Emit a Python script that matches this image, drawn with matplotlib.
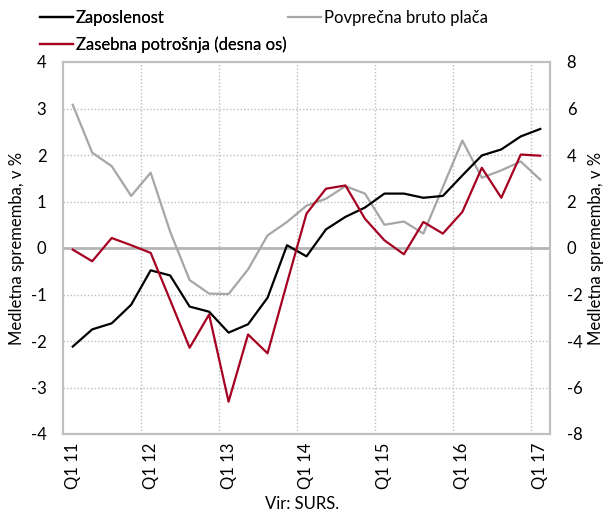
import matplotlib
matplotlib.use("Agg")
import matplotlib.pyplot as plt
import numpy as np

plt.rcParams['font.family'] = ['Lato', 'DejaVu Sans']
plt.rcParams['axes.unicode_minus'] = False

quarters = [f"Q{q} {y}" for y in range(11, 18) for q in range(1, 5)][:25]
tick_labels = ["Q1 11", "Q1 12", "Q1 13", "Q1 14", "Q1 15", "Q1 16", "Q1 17"]

zaposlenost = [-2.12, -1.75, -1.62, -1.22, -0.48, -0.59, -1.26, -1.37, -1.82, -1.64,
               -1.07, 0.06, -0.18, 0.40, 0.67, 0.87, 1.17, 1.17, 1.08, 1.12,
               1.56, 1.99, 2.12, 2.40, 2.56]
placa = [3.08, 2.05, 1.76, 1.12, 1.62, 0.35, -0.69, -0.98, -0.99, -0.46,
         0.27, 0.56, 0.91, 1.06, 1.33, 1.17, 0.50, 0.57, 0.31, 1.31,
         2.31, 1.51, 1.67, 1.86, 1.47]
potrosnja = [-0.07, -0.57, 0.43, 0.12, -0.21, -2.24, -4.29, -2.86, -6.61, -3.72,
             -4.53, -1.5, 1.48, 2.55, 2.69, 1.26, 0.33, -0.27, 1.12, 0.62,
             1.55, 3.45, 2.16, 4.02, 3.97]

fig = plt.figure(figsize=(6.04, 5.15), dpi=100)
ax = fig.add_axes([63/604, 1-434/515, 487/604, 372/515])
ax2 = ax.twinx()

x = np.arange(len(quarters))
grey = "#BFBFBF"

ax.axhline(0, color="#B4B4B4", lw=2, zorder=1)
for yv in [-3, -2, -1, 1, 2, 3]:
    ax.axhline(yv, color="#BDBDBD", lw=1, ls=(0, (1, 1.5)), zorder=0)
for xv in [3.5, 7.5, 11.5, 15.5, 19.5, 23.5]:
    ax.axvline(xv, color="#BDBDBD", lw=1, ls=(0, (1, 1.5)), zorder=0)

l1, = ax.plot(x, zaposlenost, color="black", lw=1.6, zorder=3, label="Zaposlenost")
l2, = ax.plot(x, placa, color="#A6A6A6", lw=1.6, zorder=2, label="Povprečna bruto plača")
l3, = ax2.plot(x, potrosnja, color="#A50021", lw=1.6, zorder=4, label="Zasebna potrošnja (desna os)")

ax.set_xlim(-0.5, len(quarters) - 0.5)
ax.set_ylim(-4, 4)
ax2.set_ylim(-8, 8)
ax.set_yticks(range(-4, 5))
ax2.set_yticks(range(-8, 9, 2))
ax.set_xticks(range(0, 25, 4))
ax.set_xticklabels(tick_labels, rotation=90, fontsize=12)
ax.tick_params(axis='y', labelsize=12, length=0, pad=12)
ax2.tick_params(axis='y', labelsize=12, length=0, pad=12)
ax.tick_params(axis='x', length=0, pad=6)

for a in (ax, ax2):
    for s in a.spines.values():
        s.set_color(grey)
        s.set_linewidth(1.5)

ax.set_ylabel("Medletna sprememba, v %", fontsize=12, labelpad=4)
ax2.set_ylabel("Medletna sprememba, v %", fontsize=12, rotation=90, labelpad=4)

leg1 = fig.legend(handles=[l1, l3], loc="upper left", bbox_to_anchor=(40/604, 1 - 10/515),
                  frameon=False, fontsize=12, handlelength=1.95, handletextpad=0.2,
                  labelspacing=0.6, borderaxespad=0, borderpad=0)
fig.add_artist(leg1)
fig.legend(handles=[l2], loc="upper left", bbox_to_anchor=(288/604, 1 - 10/515),
           frameon=False, fontsize=12, handlelength=1.95, handletextpad=0.2,
           borderaxespad=0, borderpad=0)

fig.text(0.5, 1 - 504/515, "Vir: SURS.", ha="center", va="center", fontsize=12)

fig.savefig("out.png", dpi=100)
